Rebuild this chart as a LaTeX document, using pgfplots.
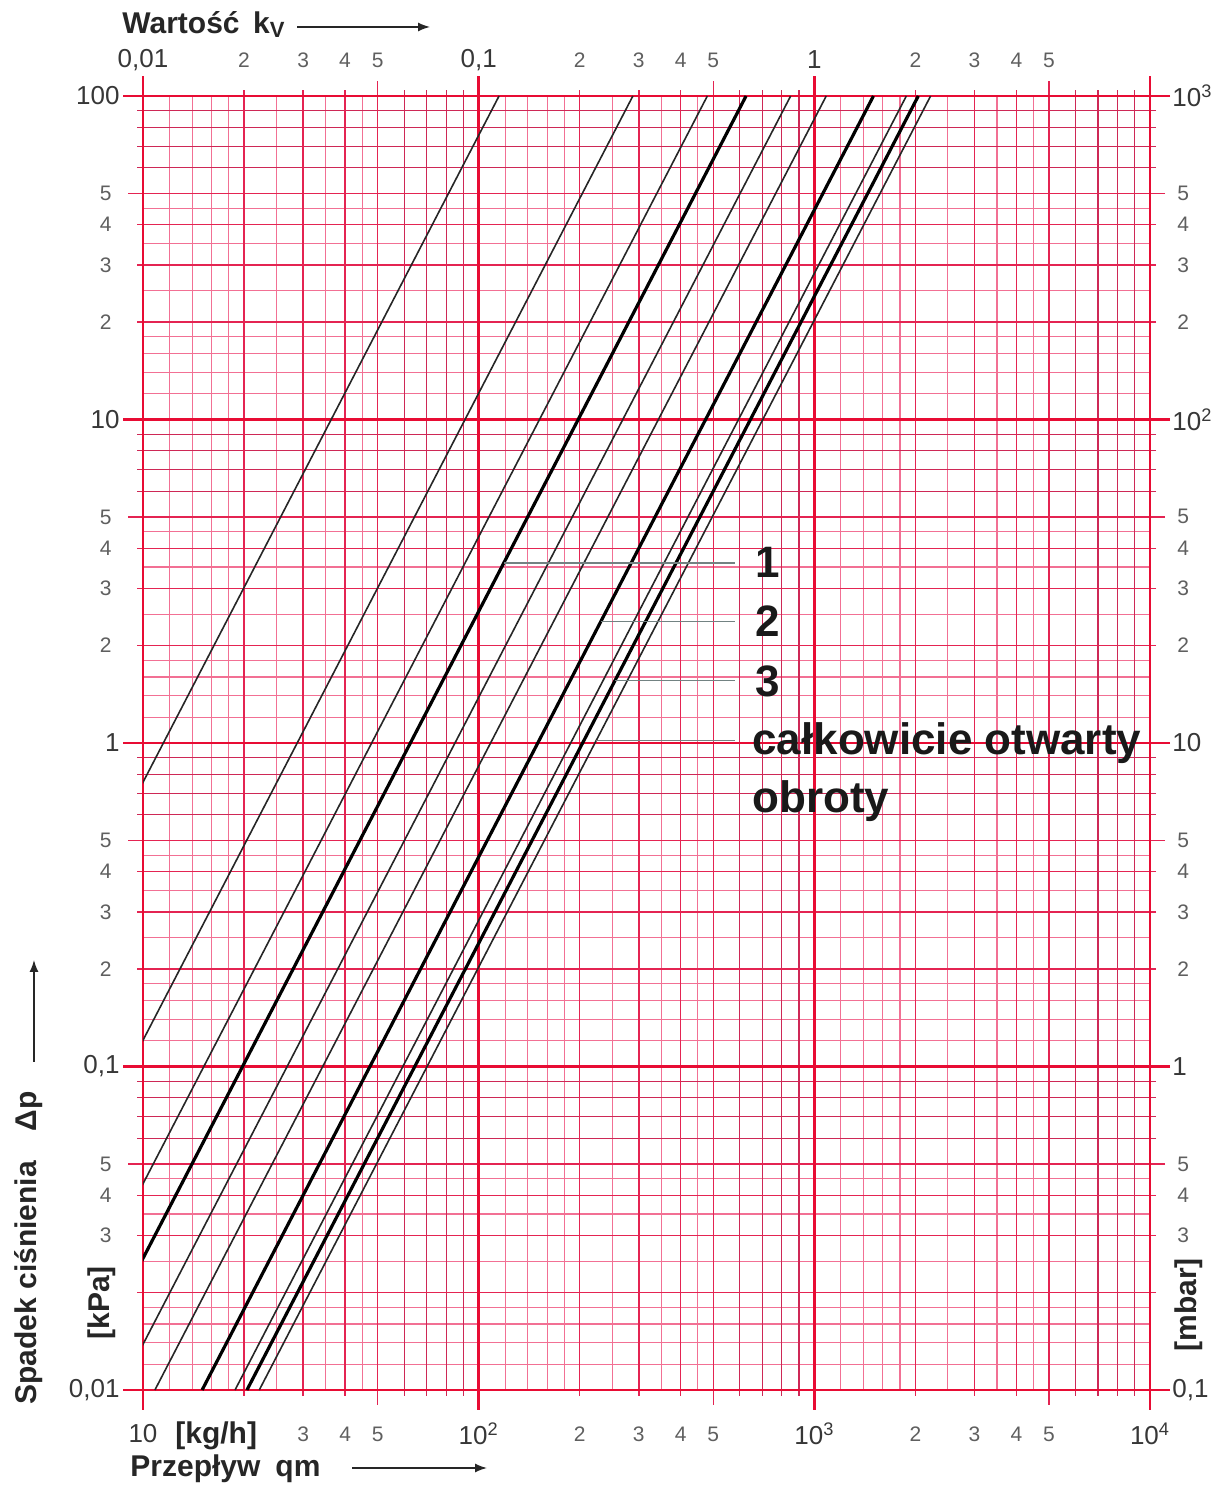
\documentclass[border=0pt]{standalone}
\usepackage{pgfplots}
\pgfplotsset{compat=1.18}
\usetikzlibrary{arrows.meta}
\usepackage{fontspec}
\setmainfont{Liberation Sans}

\definecolor{gridmaj}{RGB}{232,12,52}
\definecolor{gridmin}{RGB}{228,36,82}
\definecolor{griddark}{RGB}{206,40,86}
\definecolor{gridfine}{RGB}{242,112,148}
\definecolor{lab}{RGB}{55,55,55}
\definecolor{labsm}{RGB}{95,95,95}
\definecolor{lead}{RGB}{115,130,130}

\newcommand\Dec{\fontsize{13}{13}\selectfont\color{lab}}
\newcommand\Sm{\fontsize{10.5}{10.5}\selectfont\color{labsm}}

\pgfplotsset{
  myaxis/.style={
    scale only axis,
    width=503.5pt, height=647pt, at={(0,0)}, anchor=south west,
    axis line style={draw=none},
    xticklabels={}, yticklabels={},
    minor tick num=0,
    minor tick style={draw=none},
    minor grid style={draw=none},
    tick align=outside,
  },
}

\begin{document}
\begin{tikzpicture}
\path[use as bounding box] (-71.5pt,-48pt) rectangle (537.5pt,695pt);

% fine grid lines (1.2, 1.4, ... 4.5)
\begin{axis}[xmode=log, ymode=log, xmin=10, xmax=10000, ymin=0.01, ymax=100, myaxis,
  xtick={12,14,16,18,25,35,45,120,140,160,180,250,350,450,1200,1400,1600,1800,2500,3500,4500},
  ytick={0.012,0.014,0.016,0.018,0.025,0.035,0.045,0.12,0.14,0.16,0.18,0.25,0.35,0.45,
         1.2,1.4,1.6,1.8,2.5,3.5,4.5,12,14,16,18,25,35,45},
  grid=major, major grid style={gridfine, line width=0.55pt},
  major tick style={draw=none}]
\end{axis}

% grid lines at 6 ... 9
\begin{axis}[xmode=log, ymode=log, xmin=10, xmax=10000, ymin=0.01, ymax=100, myaxis,
  xtick={60,70,80,90,600,700,800,900,6000,7000,8000,9000},
  ytick={0.06,0.07,0.08,0.09,0.6,0.7,0.8,0.9,6,7,8,9,60,70,80,90},
  grid=major, major grid style={griddark, line width=0.6pt},
  major tick length=3pt, major tick style={griddark, line width=0.6pt}]
\end{axis}

% grid lines at 2 ... 4
\begin{axis}[xmode=log, ymode=log, xmin=10, xmax=10000, ymin=0.01, ymax=100, myaxis,
  xtick={20,30,40,200,300,400,2000,3000,4000},
  ytick={0.02,0.03,0.04,0.2,0.3,0.4,2,3,4,20,30,40},
  grid=major, major grid style={gridmin, line width=0.7pt},
  major tick length=3pt, major tick style={gridmin, line width=0.7pt}]
\end{axis}

% lines and longer ticks at 5
\begin{axis}[xmode=log, ymode=log, xmin=10, xmax=10000, ymin=0.01, ymax=100, myaxis,
  xtick={50,500,5000}, ytick={0.05,0.5,5,50},
  grid=major, major grid style={gridmin, line width=0.7pt},
  major tick length=7.5pt, major tick style={gridmin, line width=0.7pt}]
\end{axis}

% decades and curves
\begin{axis}[xmode=log, ymode=log, xmin=10, xmax=10000, ymin=0.01, ymax=100, myaxis,
  axis line style={gridmaj, line width=1.3pt},
  xtick={10,100,1000,10000}, ytick={0.01,0.1,1,10,100},
  grid=major, major grid style={gridmaj, line width=1.3pt},
  major tick length=10pt, major tick style={gridmaj, line width=1.3pt}]
% kv lines: dp = 100 (q / q_top)^2, given by their ends at 0.01 and 100 kPa
\addplot[black!85, line width=0.8pt] coordinates {(1.15,0.01) (115,100)};
\addplot[black!85, line width=0.8pt] coordinates {(2.88,0.01) (288,100)};
\addplot[black!85, line width=0.8pt] coordinates {(4.80,0.01) (480,100)};
\addplot[black, line width=1.6pt] coordinates {(6.26,0.01) (626,100)};
\addplot[black!85, line width=0.8pt] coordinates {(8.50,0.01) (850,100)};
\addplot[black!85, line width=0.8pt] coordinates {(10.85,0.01) (1085,100)};
\addplot[black, line width=1.6pt] coordinates {(15.0,0.01) (1500,100)};
\addplot[black!85, line width=0.8pt] coordinates {(18.8,0.01) (1880,100)};
\addplot[black, line width=1.6pt] coordinates {(20.4,0.01) (2040,100)};
\addplot[black!85, line width=0.8pt] coordinates {(22.2,0.01) (2220,100)};
% leader lines to the labels
\addplot[lead, line width=0.7pt] coordinates {(119,3.6) (581,3.6)};
\addplot[lead, line width=0.7pt] coordinates {(231,2.375) (581,2.375)};
\addplot[lead, line width=0.7pt] coordinates {(255,1.56) (581,1.56)};
\addplot[lead, line width=0.7pt] coordinates {(224,1.02) (581,1.02)};
\end{axis}

% labels: bottom (kg/h) and left (kPa)
\begin{axis}[xmode=log, ymode=log, xmin=10, xmax=10000, ymin=0.01, ymax=100, myaxis,
  major tick length=0pt, major tick style={draw=none},
  xtick={10,30,40,50,100,200,300,400,500,1000,2000,3000,4000,5000,10000},
  xticklabels={{\Dec 10},{\Sm 3},{\Sm 4},{\Sm 5},{\Dec 10\textsuperscript{2}},
    {\Sm 2},{\Sm 3},{\Sm 4},{\Sm 5},{\Dec 10\textsuperscript{3}},
    {\Sm 2},{\Sm 3},{\Sm 4},{\Sm 5},{\Dec 10\textsuperscript{4}}},
  ytick={0.01,0.03,0.04,0.05,0.1,0.2,0.3,0.4,0.5,1,2,3,4,5,10,20,30,40,50,100},
  yticklabels={{\Dec 0,01},{\Sm 3\kern4pt},{\Sm 4\kern4pt},{\Sm 5\kern4pt},
    {\Dec 0,1},{\Sm 2\kern4pt},{\Sm 3\kern4pt},{\Sm 4\kern4pt},{\Sm 5\kern4pt},
    {\Dec 1},{\Sm 2\kern4pt},{\Sm 3\kern4pt},{\Sm 4\kern4pt},{\Sm 5\kern4pt},
    {\Dec 10},{\Sm 2\kern4pt},{\Sm 3\kern4pt},{\Sm 4\kern4pt},{\Sm 5\kern4pt},{\Dec 100}},
  xticklabel style={anchor=center, inner sep=0pt, yshift=-22pt},
  yticklabel style={anchor=east, inner sep=0pt, xshift=-11.5pt}]
\end{axis}

% labels: top (kv) and right (mbar)
\begin{axis}[xmode=log, ymode=log, xmin=0.01, xmax=10, ymin=0.1, ymax=1000, myaxis,
  major tick length=0pt, major tick style={draw=none},
  xticklabel pos=upper, yticklabel pos=upper,
  xtick={0.01,0.02,0.03,0.04,0.05,0.1,0.2,0.3,0.4,0.5,1,2,3,4,5},
  xticklabels={{\Dec 0,01},{\Sm 2},{\Sm 3},{\Sm 4},{\Sm 5},
    {\Dec 0,1},{\Sm 2},{\Sm 3},{\Sm 4},{\Sm 5},
    {\Dec 1},{\Sm 2},{\Sm 3},{\Sm 4},{\Sm 5}},
  ytick={0.1,0.3,0.4,0.5,1,2,3,4,5,10,20,30,40,50,100,200,300,400,500,1000},
  yticklabels={{\Dec 0,1},{\Sm\kern2.5pt 3},{\Sm\kern2.5pt 4},{\Sm\kern2.5pt 5},
    {\Dec 1},{\Sm\kern2.5pt 2},{\Sm\kern2.5pt 3},{\Sm\kern2.5pt 4},{\Sm\kern2.5pt 5},
    {\Dec 10},{\Sm\kern2.5pt 2},{\Sm\kern2.5pt 3},{\Sm\kern2.5pt 4},{\Sm\kern2.5pt 5},
    {\Dec 10\textsuperscript{2}},{\Sm\kern2.5pt 2},{\Sm\kern2.5pt 3},{\Sm\kern2.5pt 4},{\Sm\kern2.5pt 5},
    {\Dec 10\textsuperscript{3}}},
  xticklabel style={anchor=center, inner sep=0pt, yshift=18pt},
  yticklabel style={anchor=west, inner sep=0pt, xshift=11pt}]
\end{axis}

% axis titles
\begin{scope}[font=\fontsize{15}{15}\selectfont\bfseries, text=black!85]
\node[anchor=base west, inner sep=0pt] at (-10.5pt,678pt)
  {Wartość\hspace{0.45em}k\raisebox{-0.25ex}{\fontsize{11}{11}\selectfont V}};
\draw[black!85, line width=0.7pt, -{Latex[length=6pt,width=4.5pt]}] (77pt,681.5pt) -- (143.5pt,681.5pt);
\node[anchor=base west, inner sep=0pt] at (-6.5pt,-43pt) {Przepływ\hspace{0.5em}qm};
\draw[black!85, line width=0.7pt, -{Latex[length=6pt,width=4.5pt]}] (104.5pt,-39pt) -- (172pt,-39pt);
\node[anchor=west, inner sep=0pt] at (16pt,-23pt) {[kg/h]};
\node[rotate=90, anchor=base west, inner sep=0pt] at (-53pt,-7.5pt) {Spadek ciśnienia\hspace{1em}Δp};
\draw[black!85, line width=0.7pt, -{Latex[length=6pt,width=4.5pt]}] (-54.5pt,164pt) -- (-54.5pt,215pt);
\node[rotate=90, anchor=base west, inner sep=0pt] at (-16.5pt,25pt) {[kPa]};
\node[rotate=90, anchor=base west, inner sep=0pt] at (526.5pt,19pt) {[mbar]};
\end{scope}

% curve labels
\begin{scope}[font=\fontsize{22}{22}\selectfont\bfseries, text=black!90]
\node[anchor=base west, inner sep=0pt] at (306pt,406pt) {1};
\node[anchor=base west, inner sep=0pt] at (306pt,376.5pt) {2};
\node[anchor=base west, inner sep=0pt] at (306pt,346.5pt) {3};
\node[anchor=base west, inner sep=0pt] at (304.5pt,317.5pt) {całkowicie otwarty};
\node[anchor=base west, inner sep=0pt] at (304.5pt,288.5pt) {obroty};
\end{scope}
\end{tikzpicture}
\end{document}
